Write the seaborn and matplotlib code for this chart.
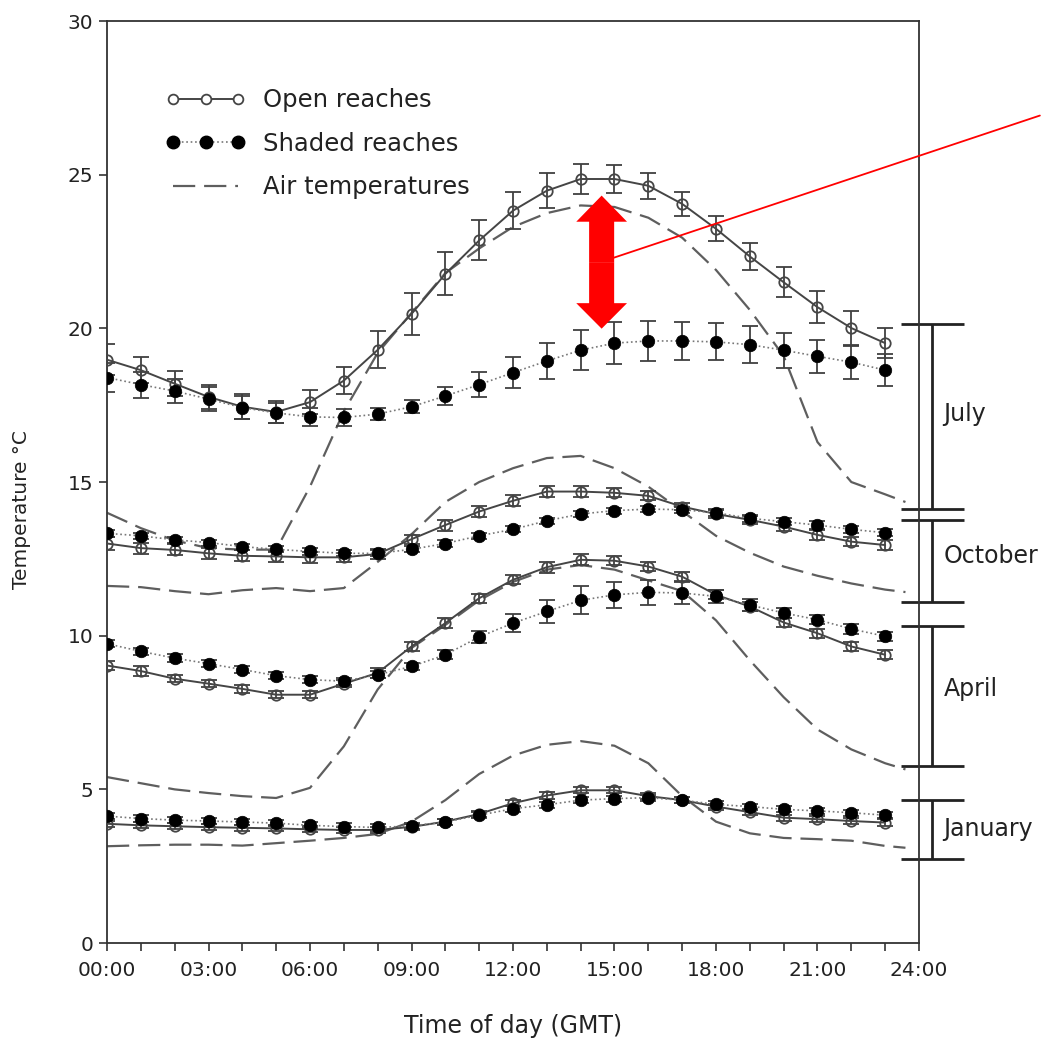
import matplotlib
matplotlib.use("Agg")
import matplotlib.pyplot as plt
import seaborn as sns
import pandas as pd
from matplotlib.lines import Line2D
from matplotlib.patches import FancyArrow

sns.set_theme(style="ticks")
plt.rcParams['font.family'] = ['DejaVu Sans']

# ---------------- data ----------------
hours = list(range(24))
air_hours = list(range(24)) + [23.6]
tick_hours = [0, 3, 6, 9, 12, 15, 18, 21, 24]
tick_labels = ['00:00', '03:00', '06:00', '09:00', '12:00', '15:00', '18:00', '21:00', '24:00']

jul_open = [18.98, 18.64, 18.2, 17.77, 17.45, 17.28, 17.6, 18.3, 19.3, 20.47, 21.77, 22.86,
            23.83, 24.48, 24.86, 24.86, 24.64, 24.05, 23.24, 22.34, 21.5, 20.69, 20.01, 19.52]
jul_open_err = [0.5, 0.42, 0.4, 0.4, 0.4, 0.35, 0.38, 0.45, 0.6, 0.68, 0.7, 0.65,
                0.6, 0.57, 0.49, 0.46, 0.43, 0.4, 0.4, 0.43, 0.49, 0.51, 0.54, 0.5]
jul_shade = [18.4, 18.17, 17.96, 17.7, 17.42, 17.25, 17.12, 17.1, 17.21, 17.45, 17.8, 18.17,
             18.56, 18.94, 19.29, 19.52, 19.59, 19.59, 19.56, 19.47, 19.29, 19.09, 18.9, 18.64]
jul_shade_err = [0.46, 0.42, 0.4, 0.38, 0.38, 0.32, 0.3, 0.28, 0.2, 0.22, 0.3, 0.4,
                 0.5, 0.6, 0.66, 0.68, 0.65, 0.62, 0.6, 0.6, 0.57, 0.54, 0.54, 0.51]
jul_air = [14.0, 13.5, 13.1, 12.85, 12.8, 12.8, 14.85, 17.3, 19.2, 20.5, 21.8, 22.6,
           23.3, 23.75, 24.0, 23.95, 23.6, 22.95, 21.9, 20.6, 19.1, 16.3, 15.0, 14.6, 14.35]

oct_open = [13.0, 12.85, 12.79, 12.68, 12.6, 12.58, 12.55, 12.55, 12.66, 13.14, 13.6, 14.04,
            14.39, 14.69, 14.69, 14.65, 14.55, 14.2, 13.96, 13.77, 13.55, 13.28, 13.06, 12.95]
oct_open_err = [0.2, 0.18, 0.18, 0.18, 0.18, 0.18, 0.18, 0.15, 0.15, 0.15, 0.18, 0.18,
                0.18, 0.18, 0.18, 0.15, 0.15, 0.12, 0.12, 0.12, 0.15, 0.15, 0.15, 0.15]
oct_shade = [13.33, 13.25, 13.12, 13.03, 12.9, 12.81, 12.74, 12.68, 12.68, 12.81, 13.0, 13.25,
             13.46, 13.74, 13.96, 14.07, 14.12, 14.1, 14.0, 13.82, 13.71, 13.6, 13.46, 13.35]
oct_shade_err = [0.12, 0.1, 0.1, 0.1, 0.1, 0.1, 0.1, 0.1, 0.1, 0.1, 0.1, 0.1,
                 0.1, 0.1, 0.1, 0.1, 0.1, 0.1, 0.12, 0.12, 0.12, 0.12, 0.12, 0.12]
oct_air = [11.62, 11.58, 11.45, 11.35, 11.48, 11.55, 11.45, 11.55, 12.4, 13.3, 14.35, 15.0,
           15.45, 15.78, 15.85, 15.45, 14.85, 14.05, 13.25, 12.7, 12.25, 11.95, 11.7, 11.5, 11.42]

apr_open = [9.03, 8.85, 8.6, 8.44, 8.27, 8.08, 8.08, 8.44, 8.79, 9.65, 10.41, 11.22,
            11.82, 12.23, 12.47, 12.44, 12.25, 11.92, 11.33, 10.95, 10.43, 10.08, 9.65, 9.38]
apr_open_err = [0.15, 0.15, 0.12, 0.12, 0.12, 0.12, 0.12, 0.12, 0.15, 0.15, 0.15, 0.15,
                0.15, 0.18, 0.18, 0.15, 0.15, 0.15, 0.15, 0.15, 0.15, 0.15, 0.15, 0.15]
apr_shade = [9.74, 9.49, 9.27, 9.09, 8.9, 8.7, 8.57, 8.52, 8.73, 9.0, 9.38, 9.96,
             10.41, 10.79, 11.15, 11.33, 11.41, 11.39, 11.28, 11.0, 10.74, 10.52, 10.22, 9.98]
apr_shade_err = [0.12, 0.12, 0.12, 0.12, 0.12, 0.12, 0.12, 0.12, 0.12, 0.12, 0.15, 0.2,
                 0.3, 0.38, 0.46, 0.43, 0.4, 0.35, 0.2, 0.18, 0.15, 0.15, 0.15, 0.15]
apr_air = [5.4, 5.2, 5.0, 4.88, 4.78, 4.72, 5.05, 6.4, 8.25, 9.6, 10.35, 11.15,
           11.75, 12.15, 12.3, 12.15, 11.8, 11.45, 10.5, 9.2, 8.0, 6.95, 6.3, 5.85, 5.65]

jan_open = [3.88, 3.83, 3.8, 3.77, 3.75, 3.73, 3.7, 3.68, 3.68, 3.78, 3.95, 4.2,
            4.55, 4.8, 4.97, 4.97, 4.78, 4.65, 4.44, 4.26, 4.08, 4.03, 3.97, 3.92]
jan_open_err = [0.1] * 24
jan_shade = [4.13, 4.05, 4.0, 3.97, 3.94, 3.9, 3.83, 3.79, 3.76, 3.81, 3.94, 4.16,
             4.37, 4.5, 4.65, 4.7, 4.73, 4.65, 4.51, 4.44, 4.35, 4.3, 4.24, 4.16]
jan_shade_err = [0.1] * 24
jan_air = [3.15, 3.18, 3.2, 3.2, 3.17, 3.25, 3.33, 3.42, 3.55, 3.95, 4.65, 5.5,
           6.1, 6.45, 6.57, 6.42, 5.85, 4.78, 3.95, 3.57, 3.42, 3.38, 3.33, 3.16, 3.1]

bracket_months = ['July', 'October', 'April', 'January']
bracket_top = [20.15, 13.75, 10.32, 4.64]
bracket_bottom = [14.12, 11.1, 5.75, 2.73]
bracket_label_y = [17.2, 12.6, 8.25, 3.7]

legend_labels = ['Open reaches', 'Shaded reaches', 'Air temperatures']

# ---------------- figure ----------------
fig = plt.figure(figsize=(10.43, 10.41), dpi=100)
ax = fig.add_axes([0.1026, 0.0941, 0.7785, 0.8857])

line_col = '#454545'
air_col = '#5e5e5e'
err_col = '#404040'

series = [
    (jul_open, jul_open_err, jul_shade, jul_shade_err, jul_air),
    (oct_open, oct_open_err, oct_shade, oct_shade_err, oct_air),
    (apr_open, apr_open_err, apr_shade, apr_shade_err, apr_air),
    (jan_open, jan_open_err, jan_shade, jan_shade_err, jan_air),
]

for op, ope, sh, she, air in series:
    # air temperature (dashed)
    sns.lineplot(x=air_hours, y=air, ax=ax, color=air_col, linewidth=1.6,
                 errorbar=None, sort=False, zorder=2)
    ax.lines[-1].set_dashes((10, 4))
    # open reaches
    ax.errorbar(hours, op, yerr=ope, fmt='none', ecolor=err_col, elinewidth=1.3,
                capsize=6, capthick=1.3, zorder=3)
    sns.lineplot(x=hours, y=op, ax=ax, color=line_col, linewidth=1.4, marker='o',
                 markersize=7.5, markerfacecolor='none', markeredgecolor=line_col,
                 markeredgewidth=1.3, errorbar=None, zorder=4)
    # shaded reaches
    ax.errorbar(hours, sh, yerr=she, fmt='none', ecolor=err_col, elinewidth=1.3,
                capsize=6, capthick=1.3, zorder=3)
    sns.lineplot(x=hours, y=sh, ax=ax, color='#777777', linewidth=1.2, linestyle=':',
                 marker='o', markersize=9, markerfacecolor='black',
                 markeredgecolor='black', markeredgewidth=0.5, errorbar=None, zorder=5)

ax.set_xlim(0, 24)
ax.set_ylim(0, 30)
ax.set_xticks(tick_hours)
ax.set_xticklabels(tick_labels)
ax.set_xticks(hours, minor=True)
ax.set_yticks([0, 5, 10, 15, 20, 25, 30])
ax.tick_params(axis='both', which='both', direction='out', length=6, width=1.2,
               color='#333333', labelcolor='#222222', labelsize=14.5)
ax.tick_params(axis='x', which='both', pad=7)
ax.tick_params(axis='y', pad=4)
for sp in ax.spines.values():
    sp.set_visible(True)
    sp.set_linewidth(1.3)
    sp.set_color('#333333')

ax.set_xlabel('Time of day (GMT)', fontsize=17, color='#222222')
ax.set_ylabel('Temperature °C', fontsize=14.5, color='#222222')
ax.xaxis.set_label_coords(0.5, -0.077)
ax.yaxis.set_label_coords(-0.094, 0.47)

# legend
handles = [
    Line2D([], [], color=line_col, lw=1.4, marker='o', markersize=7, markerfacecolor='white',
           markeredgecolor=line_col, markeredgewidth=1.3),
    Line2D([], [], color='#777777', lw=1.2, linestyle=':', marker='o', markersize=9,
           markerfacecolor='black', markeredgecolor='black'),
    Line2D([], [], color=air_col, lw=1.6, dashes=(10, 4)),
]
leg = ax.legend(handles, legend_labels, loc='upper left', bbox_to_anchor=(0.072, 0.927),
                frameon=False, fontsize=17.5, numpoints=3, handlelength=3.3,
                handletextpad=0.7, labelspacing=0.8, borderpad=0, borderaxespad=0)
for t in leg.get_texts():
    t.set_color('#222222')

# month brackets outside the axes
ax.vlines([24.38] * 4, bracket_bottom, bracket_top, colors='#222222', lw=2, clip_on=False)
ax.hlines(bracket_top + bracket_bottom, 23.46, 25.33, colors='#222222', lw=2, clip_on=False)
for name, yy in zip(bracket_months, bracket_label_y):
    ax.text(24.72, yy, name, fontsize=17, color='#222222', ha='left', va='center',
            clip_on=False)

# red double-headed arrow and pointer line
ax.add_patch(FancyArrow(14.62, 22.155, 0, 2.165, width=0.74, head_width=1.5,
                        head_length=0.85, length_includes_head=True, color='red',
                        lw=0, zorder=8))
ax.add_patch(FancyArrow(14.62, 22.155, 0, -2.165, width=0.74, head_width=1.5,
                        head_length=0.83, length_includes_head=True, color='red',
                        lw=0, zorder=8))
ax.annotate('', xy=(14.9, 22.27), xycoords='data', xytext=(0.997, 0.889),
            textcoords='figure fraction',
            arrowprops=dict(arrowstyle='-', color='red', lw=1.3, shrinkA=0, shrinkB=0),
            zorder=8, annotation_clip=False)

fig.savefig('out.png', dpi=100)
